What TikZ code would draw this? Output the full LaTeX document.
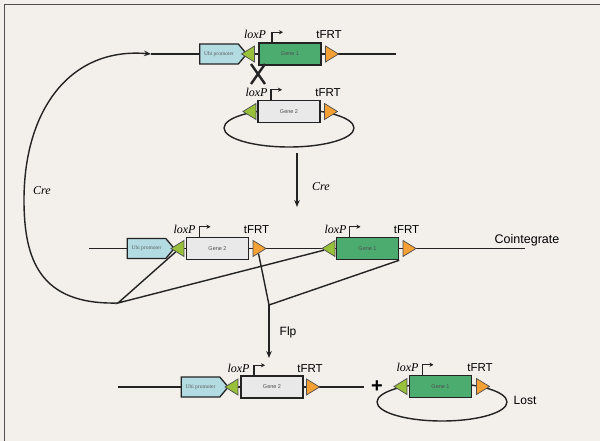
\documentclass[tikz,border=0pt]{standalone}
\usepackage{fontspec}
\setmainfont{Liberation Serif}
\setsansfont{Liberation Sans}
\usetikzlibrary{shapes.geometric,shapes.symbols,arrows.meta}

\definecolor{paper}{RGB}{243,239,235}
\definecolor{ink}{RGB}{35,35,35}
\definecolor{ubiblue}{RGB}{178,220,226}
\definecolor{geneone}{RGB}{76,172,112}
\definecolor{genetwo}{RGB}{233,233,233}
\definecolor{loxgreen}{RGB}{152,192,58}
\definecolor{frtorange}{RGB}{244,160,52}

\tikzset{
  dna/.style={draw=ink, line width=1.4pt},
  promo/.style={signal, signal to=east, signal pointer angle=100, draw=ink,
    line width=1.3pt, fill=ubiblue, minimum width=47pt, minimum height=20pt,
    inner sep=0pt, text=ink!75, font=\fontsize{5.5}{6}\selectfont},
  gene/.style={rectangle, draw=ink, line width=1.5pt, minimum width=62pt,
    minimum height=22pt, inner sep=0pt, text=ink!80,
    font=\sffamily\fontsize{5.5}{6}\selectfont},
  lox/.style={isosceles triangle, isosceles triangle stretches,
    shape border rotate=180, draw=ink!80, line width=0.7pt, fill=loxgreen,
    minimum width=16pt, minimum height=13pt, inner sep=0pt},
  frt/.style={lox, shape border rotate=0, fill=frtorange},
  loxlbl/.style={anchor=base, inner sep=0pt, font=\itshape\fontsize{12}{12}\selectfont},
  frtlbl/.style={anchor=base, inner sep=0pt, font=\sffamily\fontsize{11.5}{12}\selectfont},
  tss/.style={draw=ink, line width=1.2pt, -{Stealth[length=4pt,width=4pt]}},
  step arrow/.style={draw=ink, line width=1.3pt, -{Stealth[length=7pt,width=5.5pt]}},
}

\begin{document}
\begin{tikzpicture}[x=1pt,y=-1pt]
  \fill[paper] (0,0) rectangle (600,441);
  \useasboundingbox (0,0) rectangle (600,441);
  \draw[ink!80, line width=1pt] (4,441) -- (4,5) -- (600,5);

  % chromosome with gene 1
  \coordinate (topL) at (151,54);
  \coordinate (topR) at (396,54);
  \draw[dna] (topL) -- (topR);
  \node[promo] (ubiA) at (219,54) {Ubi promoter};
  \node[lox] (loxA) at (250,54) {};
  \node[gene, fill=geneone] (geneA) at (290,54) {Gene 1};
  \node[frt] (frtA) at (330,54) {};
  \node[loxlbl] at ([xshift=5pt,yshift=15pt]loxA) {loxP};
  \node[frtlbl] at ([xshift=-1pt,yshift=15pt]frtA) {tFRT};
  \draw[tss] ([xshift=-18pt]geneA.north) |- ++(11,-10);

  % crossover
  \draw[ink, line width=2.4pt] (251,64) -- (265,84) (265,64) -- (251,84);

  % donor plasmid with gene 2
  \draw[dna] (289,128) ellipse [x radius=65, y radius=19];
  \node[lox] (loxB) at (251.5,111.5) {};
  \node[gene, fill=genetwo] (geneB) at (289,111.5) {Gene 2};
  \node[frt] (frtB) at (329,111.5) {};
  \node[loxlbl] at ([xshift=5pt,yshift=15pt]loxB) {loxP};
  \node[frtlbl] at ([xshift=-1pt,yshift=15pt]frtB) {tFRT};
  \draw[tss] ([xshift=-18pt]geneB.north) |- ++(11,-10);

  % Cre step
  \coordinate (creTop) at (297,153);
  \coordinate (creBot) at (297,207);
  \draw[step arrow] (creTop) -- (creBot);
  \node[loxlbl, anchor=center] (creB) at (321,187) {Cre};

  % cointegrate
  \draw[dna] (89,248.5) -- (525,248.5);
  \node[promo] (ubiC) at (146.5,248.5) {Ubi promoter};
  \node[lox] (loxC) at (179.5,248.5) {};
  \node[gene, fill=genetwo] (geneC) at (217.5,248.5) {Gene 2};
  \node[frt] (frtC) at (257.5,248.5) {};
  \node[lox] (loxD) at (330.5,248.5) {};
  \node[gene, fill=geneone] (geneD) at (367.5,248.5) {Gene 1};
  \node[frt] (frtD) at (407.5,248.5) {};
  \node[loxlbl] at ([xshift=5pt,yshift=15pt]loxC) {loxP};
  \node[frtlbl] at ([xshift=-1pt,yshift=15pt]frtC) {tFRT};
  \node[loxlbl] at ([xshift=5pt,yshift=15pt]loxD) {loxP};
  \node[frtlbl] at ([xshift=-1pt,yshift=15pt]frtD) {tFRT};
  \draw[tss] ([xshift=-18pt]geneC.north) |- ++(11,-10);
  \draw[tss] ([xshift=-18pt]geneD.north) |- ++(11,-10);
  \node[font=\sffamily\fontsize{12.5}{13}\selectfont] (coint) at (527,240) {Cointegrate};

  % recombination between the sites
  \coordinate (creJ) at (118,303);
  \coordinate (flpJ) at (269,305);
  \draw[dna] (loxC) -- (creJ) -- (loxD);
  \draw[dna] (frtC) -- (flpJ) -- (geneD.south east);
  \draw[dna, -{Stealth[length=7pt,width=5.5pt]}] (creJ)
    .. controls (40,305) and (24,260) .. (24,200)
    .. controls (24,110) and (70,47) .. (topL);
  \node[loxlbl, anchor=center] (creA) at (42,191) {Cre};

  % Flp step
  \coordinate (flpEnd) at (269,358);
  \draw[step arrow] (flpJ) -- (flpEnd);
  \node[font=\sffamily\fontsize{12}{12}\selectfont] (flp) at (288,332) {Flp};

  % product
  \draw[dna] (118,387) -- (364,387);
  \node[promo] (ubiE) at (200.5,387) {Ubi promoter};
  \node[lox] (loxE) at (233.5,387) {};
  \node[gene, fill=genetwo] (geneE) at (272,387) {Gene 2};
  \node[frt] (frtE) at (311,387) {};
  \node[loxlbl] at ([xshift=5pt,yshift=15pt]loxE) {loxP};
  \node[frtlbl] at ([xshift=-1pt,yshift=15pt]frtE) {tFRT};
  \draw[tss] ([xshift=-18pt]geneE.north) |- ++(11,-10);
  \node[font=\sffamily\bfseries\fontsize{20}{20}\selectfont] (plus) at (377,387) {+};

  % excised circle
  \draw[dna] (442,402) ellipse [x radius=65, y radius=19];
  \node[lox] (loxF) at (402.5,386.5) {};
  \node[gene, fill=geneone] (geneF) at (440.5,386.5) {Gene 1};
  \node[frt] (frtF) at (481,386.5) {};
  \node[loxlbl] at ([xshift=5pt,yshift=15pt]loxF) {loxP};
  \node[frtlbl] at ([xshift=-1pt,yshift=15pt]frtF) {tFRT};
  \draw[tss] ([xshift=-18pt]geneF.north) |- ++(11,-10);
  \node[font=\sffamily\fontsize{12}{12}\selectfont] (lost) at (525,400) {Lost};
\end{tikzpicture}
\end{document}
